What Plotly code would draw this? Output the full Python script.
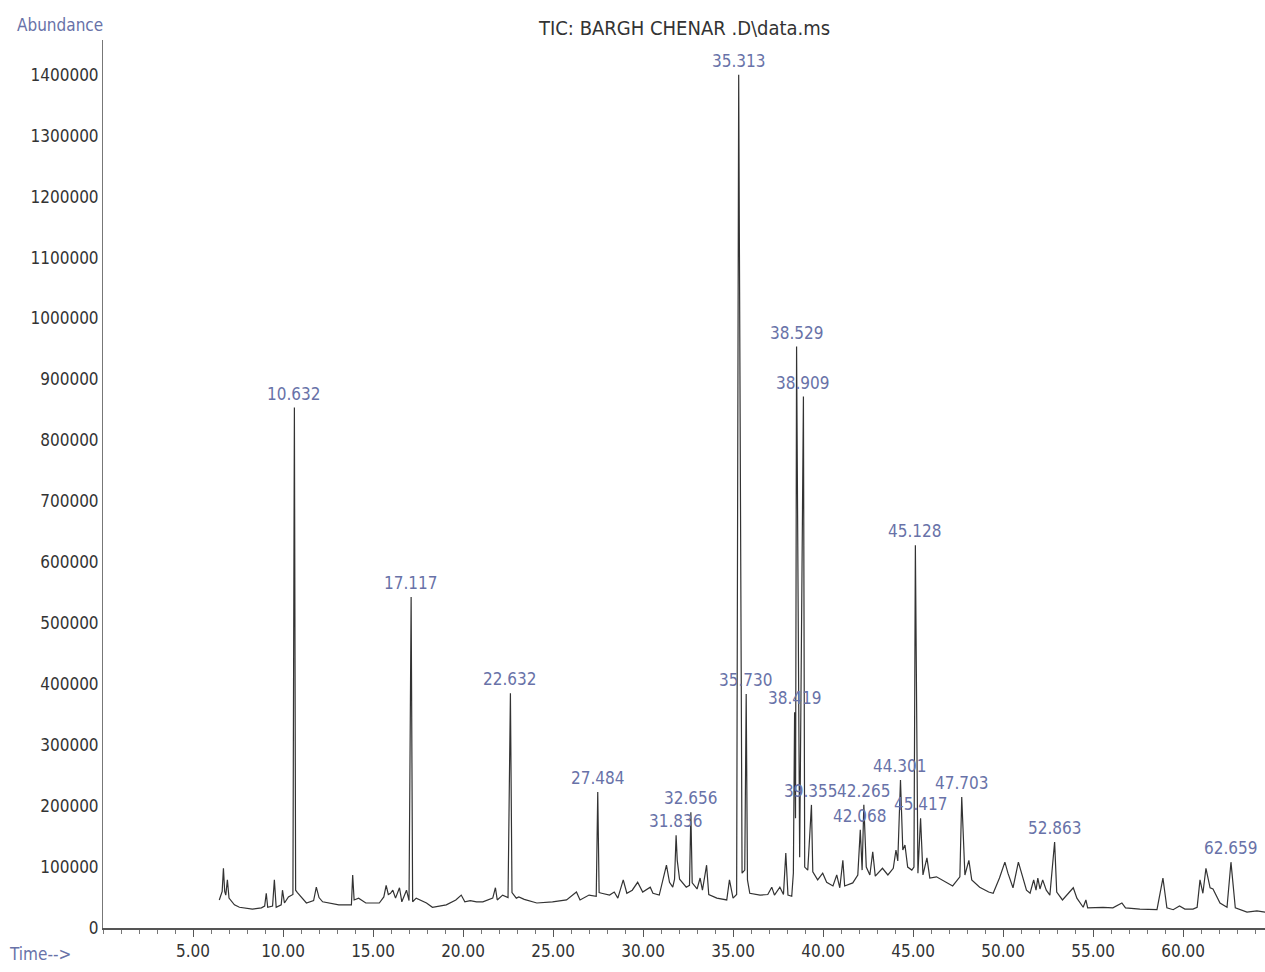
import plotly.graph_objects as go

# ---- data ----
time_min = [
    6.46, 6.62, 6.69, 6.76, 6.82, 6.91, 7.0, 7.3, 7.58, 8.3, 8.8, 8.98, 9.07, 9.15, 9.42, 9.52, 9.62, 9.9, 9.97, 10.08,
    10.3, 10.55, 10.632, 10.7, 10.8, 11.3, 11.7, 11.85, 12.0, 12.2, 13.1, 13.8, 13.87, 13.95, 14.2, 14.6, 15.35, 15.6,
    15.73, 15.85, 15.97, 16.1, 16.25, 16.47, 16.6, 16.86, 17.0, 17.117, 17.2, 17.4, 17.97, 18.3, 19.07, 19.6, 19.9,
    20.1, 20.4, 20.75, 21.1, 21.65, 21.8, 21.9, 22.2, 22.5, 22.632, 22.72, 22.96, 23.1, 23.4, 24.1, 24.97, 25.75,
    26.3, 26.5, 27.0, 27.4, 27.484, 27.56, 27.7, 28.14, 28.4, 28.6, 28.9, 29.1, 29.4, 29.7, 29.98, 30.4, 30.55, 30.9,
    31.3, 31.47, 31.65, 31.75, 31.836, 31.9, 32.03, 32.2, 32.4, 32.58, 32.656, 32.73, 33.0, 33.17, 33.3, 33.53, 33.65,
    34.1, 34.65, 34.8, 35.0, 35.2, 35.313, 35.5, 35.65, 35.73, 35.8, 35.93, 36.5, 36.93, 37.15, 37.3, 37.6, 37.8,
    37.93, 38.05, 38.26, 38.35, 38.419, 38.47, 38.529, 38.7, 38.909, 38.98, 39.15, 39.355, 39.43, 39.7, 39.98, 40.2,
    40.55, 40.76, 40.93, 41.1, 41.2, 41.65, 41.93, 42.068, 42.17, 42.265, 42.4, 42.6, 42.76, 42.9, 43.3, 43.6, 43.9,
    44.05, 44.15, 44.301, 44.43, 44.55, 44.7, 44.93, 45.05, 45.128, 45.27, 45.417, 45.55, 45.77, 45.93, 46.3, 46.88,
    47.2, 47.6, 47.703, 47.88, 48.1, 48.26, 48.7, 49.2, 49.45, 49.8, 50.1, 50.27, 50.55, 50.85, 51.05, 51.3, 51.5,
    51.7, 51.83, 51.93, 52.05, 52.2, 52.4, 52.6, 52.863, 52.98, 53.3, 53.55, 53.9, 54.1, 54.45, 54.6, 54.7, 55.55,
    56.1, 56.6, 56.8, 57.6, 58.55, 58.88, 59.1, 59.45, 59.8, 60.1, 60.55, 60.78, 60.94, 61.1, 61.27, 61.5, 61.66,
    62.05, 62.44, 62.659, 62.9, 63.55, 64.1, 64.55,
]
abundance = [
    46000, 60000, 98000, 60000, 54000, 79000, 49000, 38000, 34000, 31000, 33000, 36000, 57000, 34000, 36000, 79000, 34000, 38000, 62000, 41000,
    51000, 55000, 854000, 62000, 58000, 41000, 45000, 67000, 50000, 43000, 38000, 38000, 87000, 46000, 49000, 41000, 41000, 51000,
    70000, 55000, 57000, 62000, 49000, 66000, 43000, 62000, 45000, 543000, 43000, 49000, 41000, 34000, 38000, 46000, 54000,
    43000, 45000, 43000, 43000, 49000, 66000, 46000, 54000, 50000, 385000, 58000, 49000, 51000, 47000, 41000, 43000, 46000,
    59000, 46000, 54000, 52000, 223000, 58000, 57000, 54000, 59000, 49000, 79000, 57000, 62000, 75000, 59000, 67000, 57000, 54000,
    103000, 75000, 67000, 80000, 152000, 111000, 80000, 74000, 67000, 70000, 190000, 74000, 64000, 82000, 62000, 103000, 55000,
    49000, 46000, 79000, 49000, 55000, 1400000, 90000, 95000, 384000, 79000, 57000, 54000, 55000, 67000, 54000, 67000, 55000,
    123000, 54000, 52000, 90000, 354000, 180000, 954000, 116000, 872000, 100000, 95000, 202000, 92000, 79000, 90000, 75000,
    69000, 87000, 66000, 111000, 69000, 74000, 87000, 161000, 95000, 202000, 100000, 87000, 125000, 85000, 98000, 87000, 98000,
    128000, 110000, 243000, 128000, 136000, 100000, 95000, 100000, 628000, 90000, 180000, 87000, 115000, 82000, 84000, 75000,
    69000, 84000, 215000, 87000, 111000, 79000, 67000, 59000, 57000, 82000, 108000, 90000, 66000, 108000, 89000, 62000, 57000,
    79000, 62000, 82000, 64000, 79000, 62000, 54000, 141000, 59000, 46000, 54000, 66000, 49000, 34000, 46000, 33000, 34000,
    33000, 41000, 33000, 31000, 30000, 82000, 33000, 30000, 36000, 31000, 31000, 34000, 79000, 57000, 98000, 66000, 64000,
    41000, 34000, 108000, 33000, 26000, 28000, 26000,
]
peak_labels = [
    "10.632", "17.117", "22.632", "27.484", "31.836", "32.656", "35.313", "35.730", "38.419", "38.529",
    "38.909", "39.355", "42.068", "42.265", "44.301", "45.128", "45.417", "47.703", "52.863", "62.659",
]
y_ticks = list(range(0, 1400001, 100000))
x_ticks = [5, 10, 15, 20, 25, 30, 35, 40, 45, 50, 55, 60]
x_tick_text = ["%.2f" % v for v in x_ticks]

FONT = "DejaVu Sans Condensed, Liberation Sans Narrow, Arial Narrow, sans-serif"
FS = 17
LABEL_BLUE = "#6872a8"
INK = "#333333"

fig = go.Figure()
fig.add_trace(go.Scatter(x=time_min, y=abundance, mode="lines",
                         line=dict(color="#333333", width=1.2), hoverinfo="x+y", showlegend=False))

lookup = dict(zip(time_min, abundance))
for lab in peak_labels:
    rt = float(lab)
    fig.add_annotation(x=rt, y=lookup[rt], text=lab, showarrow=False,
                       xanchor="center", yanchor="bottom", yshift=2,
                       font=dict(family=FONT, size=FS, color=LABEL_BLUE))

fig.add_annotation(xref="paper", yref="paper", x=0.5, y=1, yshift=-2, xanchor="center", yanchor="bottom",
                   text="TIC: BARGH CHENAR .D\\data.ms", showarrow=False,
                   font=dict(family=FONT, size=20, color=INK))
fig.add_annotation(xref="paper", yref="paper", x=0, xshift=2, y=1, yshift=3, xanchor="right", yanchor="bottom",
                   text="Abundance", showarrow=False,
                   font=dict(family=FONT, size=FS, color=LABEL_BLUE))
fig.add_annotation(xref="paper", yref="paper", x=0, xshift=-30, y=0, yshift=-14, xanchor="right", yanchor="top",
                   text="Time-->", showarrow=False,
                   font=dict(family=FONT, size=FS, color=LABEL_BLUE))

fig.update_layout(
    width=1265, height=972,
    margin=dict(l=103, r=0, t=40, b=44, autoexpand=False),
    paper_bgcolor="white", plot_bgcolor="white",
    font=dict(family=FONT, size=FS, color=INK),
    xaxis=dict(range=[0, 64.55], showgrid=False, zeroline=False, showline=True, automargin=False,
               linecolor="#555555", linewidth=1.5, ticks="outside", ticklen=7, tickcolor="#555555",
               tickvals=x_ticks, ticktext=x_tick_text, tickfont=dict(family=FONT, size=FS, color=INK),
               minor=dict(dtick=1, tick0=0, ticks="outside", ticklen=4, tickcolor="#777777")),
    yaxis=dict(range=[0, 1457000], showgrid=False, zeroline=False, showline=True, automargin=False,
               linecolor="#777777", linewidth=1, ticks="", tickvals=y_ticks,
               ticktext=[str(v) for v in y_ticks], tickfont=dict(family=FONT, size=FS, color=INK)),
)

fig.write_html("out.html", config={"displayModeBar": False},
               post_script="document.body.style.margin='0';document.body.style.overflow='hidden';")
